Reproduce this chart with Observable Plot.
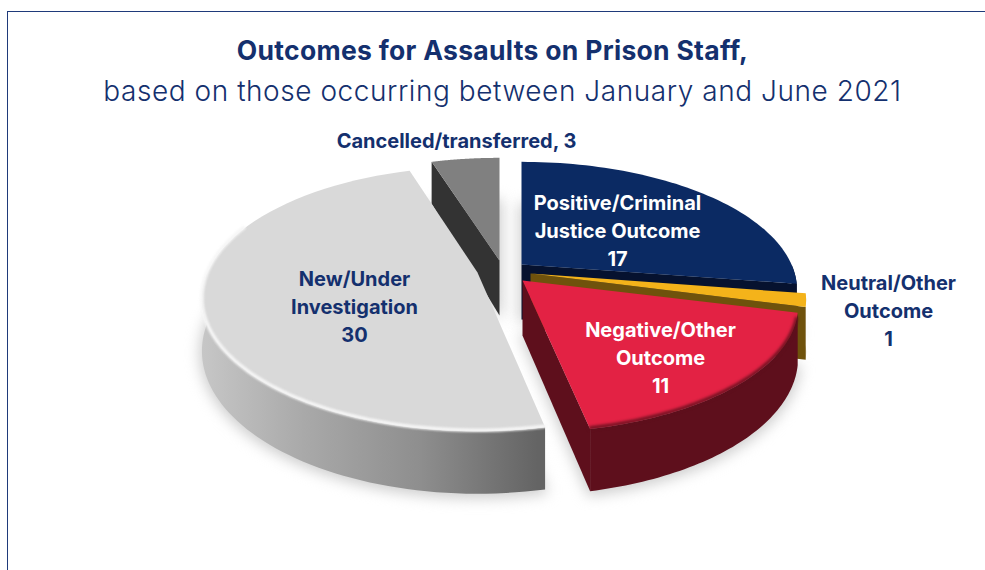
<!DOCTYPE html>
<html>
<head>
<meta charset="utf-8">
<script src="https://cdn.jsdelivr.net/npm/d3@7"></script>
<script src="https://cdn.jsdelivr.net/npm/@observablehq/plot@0.6"></script>
<style>
  html, body { margin: 0; padding: 0; background: #fff; width: 985px; height: 570px; overflow: hidden; }
  body { font-family: Inter, "Noto Sans", sans-serif; color: #14306e; position: relative; }
  #frame { position: absolute; left: 7px; top: 11px; width: 978px; height: 559px;
           border-left: 1px solid #1f3a7a; border-top: 1px solid #1f3a7a; box-sizing: border-box; }
  #head { position: absolute; left: 0; top: 0; width: 985px; height: 110px; text-align: center; }
  #title { position: absolute; left: 0; right: 0; top: 34px; font-size: 26.5px; font-weight: 700; line-height: 32px; white-space: nowrap; letter-spacing: 0.3px; }
  #subtitle { position: absolute; left: 20px; right: 0; top: 74px; font-size: 28px; font-weight: 300; line-height: 34px; white-space: nowrap; letter-spacing: 0.55px; }
  #chart { position: absolute; left: 0; top: 110px; }
  svg { display: block; }
</style>
</head>
<body>
<div id="frame"></div>
<div id="head">
  <div id="title">Outcomes for Assaults on Prison Staff,</div>
  <div id="subtitle">based on those occurring between January and June 2021</div>
</div>
<div id="chart"></div>
<script>
// ---- data
const categories = ["Positive/Criminal Justice Outcome", "Neutral/Other Outcome", "Negative/Other Outcome", "New/Under Investigation", "Cancelled/transferred"];
const values = [17, 1, 11, 30, 3];
const labelLines = ["Positive/Criminal\nJustice Outcome\n17", "Neutral/Other\nOutcome\n1", "Negative/Other\nOutcome\n11", "New/Under\nInvestigation\n30", "Cancelled/transferred, 3"];

// ---- look
const topColors = ["#0b2a63", "#f4b31a", "#e32244", "#d9d9d9", "#808080"];
const sideColors = ["#06122f", "#6f520c", "#5e0f1c", "url(#wallNew)", "#333333"];
const labelColors = ["#ffffff", "#14306e", "#ffffff", "#14306e", "#14306e"];

// ---- exploded-pie layout (slice tips and label anchors, in page pixels)
const tipX = [521, 530, 522, 477, 499];
const tipY = [264, 273, 280, 272, 260];
const ryScale = [0.97, 1, 0.96, 1, 0.97];
const labelX = [617, 888, 660, 354, 456];
const labelY = [229, 309, 356, 305, 139];
const rx = 270, ry = 127, persp = 0.2, thick = 50, tipThick = 55;
const H = 460, top0 = 110;

const pie = d3.pie().sort(null).value(d => d)(values);
const outer = (i, a, down) => {
  const d = 1 + persp * Math.cos(a);
  return [tipX[i] + rx * Math.sin(a) / d, tipY[i] - ry * ryScale[i] * Math.cos(a) / d + (down ? thick / d : 0)];
};
const arc = (i, a0, a1, down) => d3.range(0, 61).map(k => outer(i, a0 + (a1 - a0) * k / 60, down));
const poly = (pts, options) => Plot.line(pts, {x: d => d[0], y: d => d[1], curve: "linear-closed", ...options});
const path = (pts, options) => Plot.line(pts, {x: d => d[0], y: d => d[1], ...options});

const buildSlice = (i) => {
  const a0 = pie[i].startAngle, a1 = pie[i].endAngle;
  const tip = [tipX[i], tipY[i]], tipLow = [tipX[i], tipY[i] + tipThick];
  const marks = [];
  // outer wall on the front half of the pie
  const w0 = Math.max(a0, Math.PI / 2), w1 = Math.min(a1, 1.5 * Math.PI);
  if (w1 > w0) marks.push(poly([...arc(i, w0, w1, false), ...arc(i, w1, w0, true)], {fill: sideColors[i]}));
  // cut wall: the radial face that looks towards the viewer
  const cut = (i === 4) ? a0 : a1;
  if (i !== 3) marks.push(poly([tip, outer(i, cut, false), outer(i, cut, true), tipLow], {fill: sideColors[i]}));
  marks.push(poly([tip, ...arc(i, a0, a1, false)], {fill: topColors[i]}));
  if (i === 3) marks.push(path(arc(i, a0, Math.min(a1, 1.62 * Math.PI), false).map(p => [p[0], p[1] - 1]), {stroke: "#f6f6f6", strokeWidth: 3.5, imageFilter: "blur(1px)"}));
  if (i === 2) marks.push(path(arc(i, a0 + 0.05, a1, false).map(p => [p[0], p[1] - 1]), {stroke: "#5e0f1c", strokeWidth: 3, imageFilter: "blur(1.5px)"}));
  return marks;
};
const shadow = [3, 2, 4, 0].map(i => {
  const a0 = pie[i].startAngle, a1 = pie[i].endAngle;
  return poly([[tipX[i], tipY[i] + tipThick], ...arc(i, a0, a1, true).map(p => [p[0], p[1] + 2])], {fill: "#cdcdcd", stroke: "#cdcdcd", strokeWidth: 5, imageFilter: "blur(7px)"});
});

const plot = Plot.plot({
  width: 985, height: H, margin: 0,
  style: {background: "transparent", overflow: "visible"},
  x: {domain: [0, 985], range: [0, 985], axis: null},
  y: {domain: [top0, top0 + H], range: [0, H], axis: null},
  marks: [
    () => {
      const ns = "http://www.w3.org/2000/svg";
      const defs = document.createElementNS(ns, "defs");
      defs.innerHTML = `<linearGradient id="wallNew" gradientUnits="userSpaceOnUse" x1="203" x2="537" y1="0" y2="0">
        <stop offset="0" stop-color="#c6c6c6"/><stop offset="0.3" stop-color="#a9a9a9"/>
        <stop offset="0.65" stop-color="#8e8e8e"/><stop offset="1" stop-color="#646464"/></linearGradient>`;
      return defs;
    },
    ...shadow,
    ...[4, 3, 0, 1, 2].flatMap(buildSlice),
    Plot.text(labelLines.map((t, i) => ({t, i})), {
      x: d => labelX[d.i], y: d => labelY[d.i], text: "t",
      fill: d => labelColors[d.i],
      fontSize: 20, fontWeight: 700, lineHeight: 1.4, lineAnchor: "middle", textAnchor: "middle",
      fontFamily: "Inter, 'Noto Sans', sans-serif"
    })
  ],
  color: {type: "identity"}
});
document.getElementById("chart").appendChild(plot);
</script>
</body>
</html>
